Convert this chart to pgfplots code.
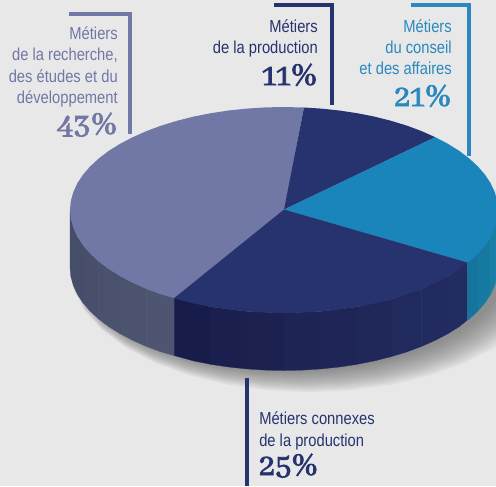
\documentclass[border=0pt]{standalone}
\usepackage{fontspec}
\usepackage{pgfplots}
\pgfplotsset{compat=1.18}
\usepackage{pgfplotstable}
\newfontfamily\lab[FakeStretch=0.85]{Liberation Sans}
\newfontfamily\numf[Numbers=OldStyle,FakeBold=2.2]{Abhaya Libre}
\definecolor{bg}{HTML}{E8E8E9}
\definecolor{lav}{HTML}{7178A5}
\definecolor{nav}{HTML}{26336F}
\definecolor{cya}{HTML}{1A85BB}
\definecolor{cyt}{HTML}{2A88BE}
\pgfplotstableread{
x y
498.0 210
494.7 227.9
485.1 245.2
469.3 261.5
447.9 276.2
421.6 288.9
391.0 299.2
357.2 306.8
321.2 311.4
284.0 313
246.8 311.4
210.8 306.8
177.0 299.2
146.4 288.9
120.1 276.2
98.7 261.5
82.9 245.2
73.3 227.9
70.0 210
73.3 192.1
82.9 174.8
98.7 158.5
120.1 143.8
146.4 131.1
177.0 120.8
210.8 113.2
246.8 108.6
284.0 107
321.2 108.6
357.2 113.2
391.0 120.8
421.6 131.1
447.9 143.8
469.3 158.5
485.1 174.8
494.7 192.1
}\rimtable
\newcommand{\pct}[1]{\fontsize{26}{26}\selectfont\numf #1\%}
\tikzset{
  lab/.style={anchor=base east, inner sep=0pt, font=\lab\fontsize{13}{13}\selectfont},
  labl/.style={anchor=base west, inner sep=0pt, font=\lab\fontsize{13}{13}\selectfont},
}
\begin{document}
\begin{tikzpicture}
\begin{axis}[
  scale only axis, width=372pt, height=364.5pt,
  xmin=0, xmax=496, ymin=0, ymax=486, y dir=reverse,
  hide axis, enlargelimits=false, clip=true,
]
% background
\addplot[fill=bg, draw=none] coordinates {(0,0) (496,0) (496,486) (0,486)};
% shadow
\pgfplotsinvokeforeach{0,...,11}{
  \addplot[fill=black!62!bg, draw=none, fill opacity=0.07]
    table[x expr={310-1.667*#1+(\thisrow{x}-284)*(240-2.17*#1)/214},
          y expr={268-0.083*#1+(\thisrow{y}-210)*(124-1.75*#1)/103}] {\rimtable};
}
% side, lavender
\addplot[fill={rgb,255:red,77;green,85;blue,112}, draw={rgb,255:red,77;green,85;blue,112}, line width=0.2pt] coordinates {(174.3,298) (174.3,355.5) (161.2,351.9) (146.4,346.4) (146.4,288.9)};
\addplot[fill={rgb,255:red,75;green,83;blue,110}, draw={rgb,255:red,75;green,83;blue,110}, line width=0.2pt] coordinates {(146.4,288.9) (146.4,346.4) (132.7,340.3) (120.1,333.7) (120.1,276.2)};
\addplot[fill={rgb,255:red,73;green,81;blue,108}, draw={rgb,255:red,73;green,81;blue,108}, line width=0.2pt] coordinates {(120.1,276.2) (120.1,333.7) (108.7,326.6) (98.7,319) (98.7,261.5)};
\addplot[fill={rgb,255:red,71;green,79;blue,106}, draw={rgb,255:red,71;green,79;blue,106}, line width=0.2pt] coordinates {(98.7,261.5) (98.7,319) (90.1,311) (82.9,302.7) (82.9,245.2)};
\addplot[fill={rgb,255:red,70;green,77;blue,105}, draw={rgb,255:red,70;green,77;blue,105}, line width=0.2pt] coordinates {(82.9,245.2) (82.9,302.7) (77.3,294.2) (73.3,285.4) (70.8,276.5) (70,267.5) (70,210)};
% side, navy
\addplot[fill={rgb,255:red,24;green,28;blue,75}, draw={rgb,255:red,24;green,28;blue,75}, line width=0.2pt] coordinates {(174.3,298) (174.3,355.5) (193.6,360.9) (210.8,364.3) (210.8,306.8)};
\addplot[fill={rgb,255:red,26;green,31;blue,78}, draw={rgb,255:red,26;green,31;blue,78}, line width=0.2pt] coordinates {(210.8,306.8) (210.8,364.3) (228.6,367) (246.8,368.9) (246.8,311.4)};
\addplot[fill={rgb,255:red,28;green,33;blue,80}, draw={rgb,255:red,28;green,33;blue,80}, line width=0.2pt] coordinates {(246.8,311.4) (246.8,368.9) (265.3,370.1) (284,370.5) (284,313)};
\addplot[fill={rgb,255:red,30;green,36;blue,84}, draw={rgb,255:red,30;green,36;blue,84}, line width=0.2pt] coordinates {(284,313) (284,370.5) (302.7,370.1) (321.2,368.9) (321.2,311.4)};
\addplot[fill={rgb,255:red,31;green,38;blue,87}, draw={rgb,255:red,31;green,38;blue,87}, line width=0.2pt] coordinates {(321.2,311.4) (321.2,368.9) (339.4,367) (357.2,364.3) (357.2,306.8)};
\addplot[fill={rgb,255:red,32;green,40;blue,90}, draw={rgb,255:red,32;green,40;blue,90}, line width=0.2pt] coordinates {(357.2,306.8) (357.2,364.3) (374.4,360.9) (391,356.7) (391,299.2)};
\addplot[fill={rgb,255:red,33;green,42;blue,92}, draw={rgb,255:red,33;green,42;blue,92}, line width=0.2pt] coordinates {(391,299.2) (391,356.7) (406.8,351.9) (421.6,346.4) (421.6,288.9)};
\addplot[fill={rgb,255:red,34;green,43;blue,95}, draw={rgb,255:red,34;green,43;blue,95}, line width=0.2pt] coordinates {(421.6,288.9) (421.6,346.4) (435.3,340.3) (447.9,333.7) (447.9,276.2)};
\addplot[fill={rgb,255:red,35;green,44;blue,96}, draw={rgb,255:red,35;green,44;blue,96}, line width=0.2pt] coordinates {(447.9,276.2) (447.9,333.7) (459.3,326.6) (467.4,320) (467.4,262.5)};
% side, blue
\addplot[fill={rgb,255:red,20;green,116;blue,156}, draw={rgb,255:red,20;green,116;blue,156}, line width=0.2pt] coordinates {(467.4,262.5) (467.4,320) (469.3,319) (477.9,311) (477.9,253.5)};
\addplot[fill={rgb,255:red,22;green,122;blue,160}, draw={rgb,255:red,22;green,122;blue,160}, line width=0.2pt] coordinates {(477.9,253.5) (477.9,311) (485.1,302.7) (490.7,294.2) (490.7,236.7)};
\addplot[fill={rgb,255:red,24;green,128;blue,166}, draw={rgb,255:red,24;green,128;blue,166}, line width=0.2pt] coordinates {(490.7,236.7) (490.7,294.2) (494.7,285.4) (497.2,276.5) (498,267.5) (498,210)};
% top face
\addplot[fill=lav, draw=none] coordinates {(284,209.5) (174.3,298) (161.2,294.4) (146.4,288.9) (132.7,282.8) (120.1,276.2) (108.7,269.1) (98.7,261.5) (90.1,253.5) (82.9,245.2) (77.3,236.7) (73.3,227.9) (70.8,219) (70,210) (70.8,201) (73.3,192.1) (77.3,183.3) (82.9,174.8) (90.1,166.5) (98.7,158.5) (108.7,150.9) (120.1,143.8) (132.7,137.2) (146.4,131.1) (161.2,125.6) (177,120.8) (193.6,116.6) (210.8,113.2) (228.6,110.5) (246.8,108.6) (265.3,107.4) (284,107) (304,107.5)};
\addplot[fill=nav, draw=none] coordinates {(284,209.5) (304,107.5) (321.2,108.6) (339.4,110.5) (357.2,113.2) (374.4,116.6) (391,120.8) (406.8,125.6) (421.6,131.1) (435.3,137.2)};
\addplot[fill=cya, draw=none] coordinates {(284,209.5) (435.3,137.2) (447.9,143.8) (459.3,150.9) (469.3,158.5) (477.9,166.5) (485.1,174.8) (490.7,183.3) (494.7,192.1) (497.2,201) (498,210) (497.2,219) (494.7,227.9) (490.7,236.7) (485.1,245.2) (477.9,253.5) (469.3,261.5) (467.4,262.5)};
\addplot[fill=nav, draw=none] coordinates {(284,209.5) (467.4,262.5) (459.3,269.1) (447.9,276.2) (435.3,282.8) (421.6,288.9) (406.8,294.4) (391,299.2) (374.4,303.4) (357.2,306.8) (339.4,309.5) (321.2,311.4) (302.7,312.6) (284,313) (265.3,312.6) (246.8,311.4) (228.6,309.5) (210.8,306.8) (193.6,303.4) (177,299.2) (174.3,298)};
% leader lines
\addplot[lav, line width=2.3pt, line cap=butt] coordinates {(69,14) (130,14) (130,134)};
\addplot[nav, line width=2.3pt, line cap=butt] coordinates {(274,5) (332,5) (332,105)};
\addplot[cyt, line width=2.3pt, line cap=butt] coordinates {(411,5) (469,5) (469,156)};
\addplot[nav, line width=2.3pt, line cap=butt] coordinates {(247,378) (247,486)};
% labels
\node[lab, text=lav] at (axis cs:118,39) {Métiers};
\node[lab, text=lav] at (axis cs:118,60) {de la recherche,};
\node[lab, text=lav] at (axis cs:118,82) {des études et du};
\node[lab, text=lav] at (axis cs:118,103) {développement};
\node[anchor=base east, inner sep=0pt, text=lav] at (axis cs:118,134) {\pct{43}};
\node[lab, text=nav] at (axis cs:318,32) {Métiers};
\node[lab, text=nav] at (axis cs:318,53) {de la production};
\node[anchor=base east, inner sep=0pt, text=nav] at (axis cs:318,85) {\pct{11}};
\node[lab, text=cyt] at (axis cs:452,32) {Métiers};
\node[lab, text=cyt] at (axis cs:452,53) {du conseil};
\node[lab, text=cyt] at (axis cs:452,74) {et des affaires};
\node[anchor=base east, inner sep=0pt, text=cyt] at (axis cs:452,106) {\pct{21}};
\node[labl, text=nav] at (axis cs:259,424) {Métiers connexes};
\node[labl, text=nav] at (axis cs:259,446) {de la production};
\node[anchor=base west, inner sep=0pt, text=nav] at (axis cs:259,475) {\pct{25}};
\end{axis}
\end{tikzpicture}
\end{document}
